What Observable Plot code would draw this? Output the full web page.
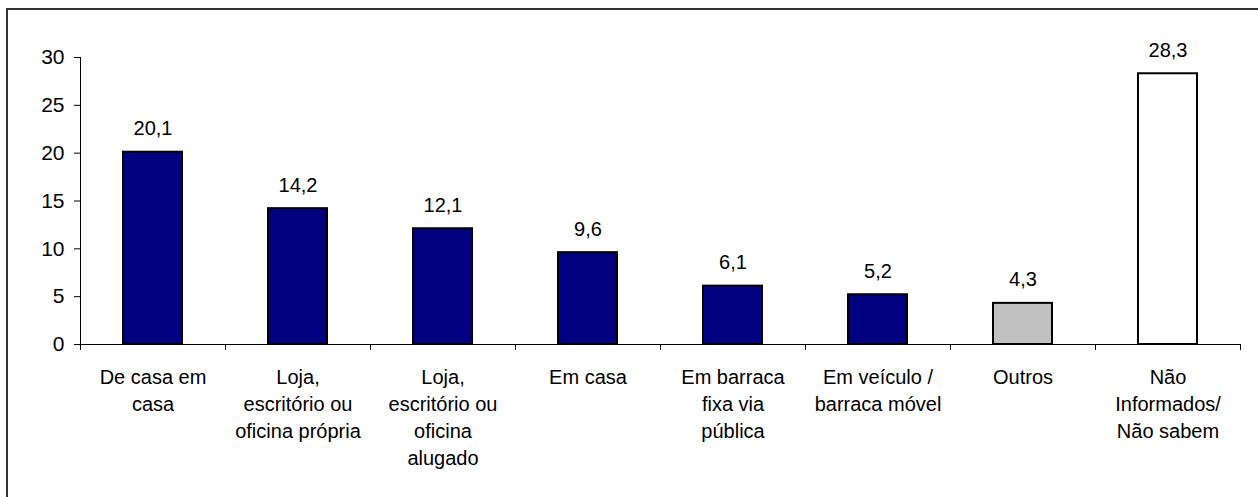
<!DOCTYPE html>
<html>
<head>
<meta charset="utf-8">
<script src="https://cdn.jsdelivr.net/npm/d3@7"></script>
<script src="https://cdn.jsdelivr.net/npm/@observablehq/plot@0.6"></script>
<style>
  html, body { margin: 0; padding: 0; background: #fff; }
  #chart svg { display: block; }
</style>
</head>
<body>
<div id="chart"></div>
<script>
const categories = [
  "De casa em\ncasa",
  "Loja,\nescritório ou\noficina própria",
  "Loja,\nescritório ou\noficina\nalugado",
  "Em casa",
  "Em barraca\nfixa via\npública",
  "Em veículo /\nbarraca móvel",
  "Outros",
  "Não\nInformados/\nNão sabem"
];
const values = [20.1, 14.2, 12.1, 9.6, 6.1, 5.2, 4.3, 28.3];
const fills = ["#000080", "#000080", "#000080", "#000080", "#000080", "#000080", "#C0C0C0", "#FFFFFF"];
const yTicks = [0, 5, 10, 15, 20, 25, 30];

const data = categories.map((c, i) => ({cat: c, i, value: values[i], fill: fills[i]}));
const fmt = v => v.toFixed(1).replace(".", ",");

const W = 1258, H = 497;
const FS = 20;
const chart = Plot.plot({
  width: W,
  height: H,
  marginLeft: 80,
  marginRight: 18,
  marginTop: 57,
  marginBottom: 153,
  style: {fontFamily: "'Liberation Sans', Arial, sans-serif", fontSize: FS + "px", color: "#000", background: "#fff"},
  x: {domain: [0, categories.length], axis: null, label: null},
  y: {domain: [0, 30], axis: null, label: null},
  marks: [
    Plot.rectY(data, {x1: "i", x2: d => d.i + 1, y: "value", fill: "fill", stroke: "#000", strokeWidth: 2, insetLeft: 43, insetRight: 43}),
    Plot.frame({anchor: "left", stroke: "#000", strokeOpacity: 1}),
    Plot.frame({anchor: "bottom", stroke: "#000", strokeOpacity: 1}),
    Plot.axisY({ticks: yTicks, tickSize: 6, tickPadding: 10, fontSize: 21, stroke: "#000", strokeOpacity: 1, label: null}),
    Plot.axisX({ticks: d3.range(categories.length + 1), tickFormat: () => "", tickSize: 6, stroke: "#000", strokeOpacity: 1, label: null}),
    Plot.text(data, {x: d => d.i + 0.5, y: "value", text: d => fmt(d.value), lineAnchor: "bottom", dy: -17, fontSize: FS, fill: "#000"}),
    Plot.text(data, {x: d => d.i + 0.5, y: 0, text: "cat", lineAnchor: "top", dy: 20, lineHeight: 1.35, fontSize: FS, fill: "#000"})
  ]
});

// outer chart-area border (top and left edges visible)
const svg = d3.select(chart);
svg.append("path")
  .attr("d", `M7,${H + 5}V9H${W + 5}`)
  .attr("fill", "none")
  .attr("stroke", "#333")
  .attr("stroke-width", 2);

document.getElementById("chart").appendChild(chart);
</script>
</body>
</html>
